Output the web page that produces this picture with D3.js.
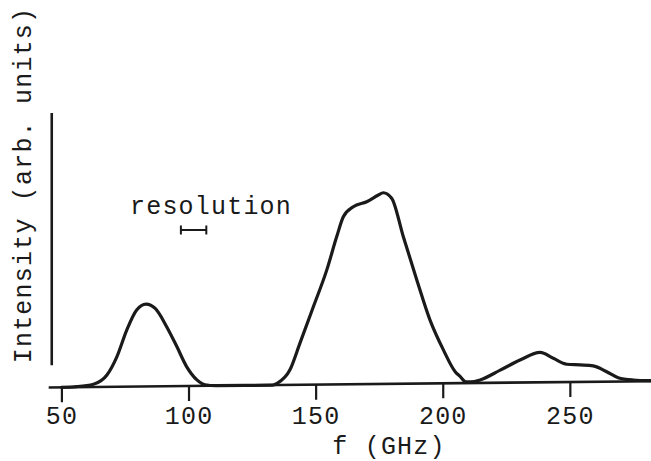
<!DOCTYPE html>
<html>
<head>
<meta charset="utf-8">
<script src="https://cdn.jsdelivr.net/npm/d3@7"></script>
<style>
  html, body { margin: 0; padding: 0; background: #fff; }
  svg { display: block; }
  text { font-family: "Liberation Mono", "DejaVu Sans Mono", monospace; fill: #1a1a1a; }
</style>
</head>
<body>
<svg id="chart" width="651" height="461"></svg>
<script>
// Measured spectrum: frequency (GHz) and intensity (arbitrary units)
const freqGHz = [
  50, 56, 62.6, 67.9, 71.8, 75.7, 79.6, 83.3, 86.9, 91.4, 95.4, 99.3, 103.3, 106.5, 111,
  133, 135, 139.9, 143.8, 149.1, 154.4, 158.3, 160.9, 164.8, 170.1, 174.7, 176.6, 179.9,
  184.5, 189.8, 195.0, 200.3, 204.9, 206.9, 209, 211,
  214.7, 222.6, 230.4, 238.3, 243.5, 248.8, 254.0, 259.2, 264.5, 269.0, 274.9, 282
];
const intensity = [
  0, 0.002, 0.010, 0.043, 0.109, 0.206, 0.279, 0.300, 0.284, 0.217, 0.144, 0.070, 0.022, 0.004, 0,
  0, 0.007, 0.055, 0.151, 0.284, 0.418, 0.539, 0.611, 0.647, 0.665, 0.689, 0.697, 0.677,
  0.536, 0.378, 0.231, 0.121, 0.042, 0.024, 0.005, 0.004,
  0.011, 0.046, 0.082, 0.109, 0.087, 0.065, 0.062, 0.058, 0.036, 0.014, 0.005, 0.002
];
const tickValues = [50, 100, 150, 200, 250];
const tickLabels = ["50", "100", "150", "200", "250"];
const resolutionGHz = [97, 107];
const xTitle = "f (GHz)";
const yTitle = "Intensity (arb. units)";
const resolutionLabel = "resolution";

const svg = d3.select("#chart");
const ink = "#1a1a1a";

const x = d3.scaleLinear().domain([45, 282]).range([48.7, 651.2]);
const y = d3.scaleLinear().domain([0, 1]).range([387.3, 113]);

// The hand-drawn baseline runs slightly uphill to the right
const ox = x(50), oy = y(0);
const plot = svg.append("g")
  .attr("transform", `translate(${ox},${oy}) skewY(-0.595) translate(${-ox},${-oy})`);

// x axis line and ticks
const xAxis = d3.axisBottom(x)
  .tickValues(tickValues)
  .tickSize(15)
  .tickFormat("");
const ax = plot.append("g")
  .attr("transform", `translate(0,${y(0)})`)
  .call(xAxis);
ax.select(".domain").attr("d", `M${x(45)},0H${x(282)}`)
  .attr("stroke", ink).attr("stroke-width", 2.6);
ax.selectAll(".tick line").attr("stroke", ink).attr("stroke-width", 2.2);

// vertical intensity axis (no ticks)
plot.append("line")
  .attr("x1", x(46.2)).attr("x2", x(46.2))
  .attr("y1", y(0.081)).attr("y2", y(1))
  .attr("stroke", ink).attr("stroke-width", 2.6);

// spectrum curve
const pts = freqGHz.map((f, i) => [f, intensity[i]]);
const line = d3.line()
  .x(d => x(d[0]))
  .y(d => y(d[1]))
  .curve(d3.curveMonotoneX);
plot.append("path")
  .datum(pts)
  .attr("d", line)
  .attr("fill", "none")
  .attr("stroke", ink)
  .attr("stroke-width", 3.2)
  .attr("stroke-linejoin", "round")
  .attr("stroke-linecap", "round");

// tick labels (kept level)
const labelAxis = d3.axisBottom(x)
  .tickValues(tickValues)
  .tickSize(0)
  .tickPadding(0)
  .tickFormat((d, i) => tickLabels[i]);
const la = svg.append("g")
  .attr("transform", `translate(0,406)`)
  .call(labelAxis);
la.select(".domain").remove();
la.selectAll("text")
  .attr("dy", "0.71em")
  .style("font-family", '"Liberation Mono", monospace')
  .style("font-size", "25px")
  .style("letter-spacing", "1.2px")
  .attr("fill", ink);

// axis titles
svg.append("text")
  .attr("x", 389).attr("y", 453.5)
  .attr("text-anchor", "middle")
  .style("font-size", "25px")
  .style("letter-spacing", "1.2px")
  .text(xTitle);

svg.append("text")
  .attr("transform", "translate(31,185) rotate(-90)")
  .attr("text-anchor", "middle")
  .style("font-size", "25px")
  .style("letter-spacing", "1.2px")
  .text(yTitle);

// resolution marker
svg.append("text")
  .attr("x", 211).attr("y", 213.5)
  .attr("text-anchor", "middle")
  .style("font-size", "25px")
  .style("letter-spacing", "1.2px")
  .text(resolutionLabel);

const rb = svg.append("g").attr("stroke", ink).attr("stroke-width", 2);
const ry = 230;
rb.append("line").attr("x1", x(resolutionGHz[0])).attr("x2", x(resolutionGHz[1]))
  .attr("y1", ry).attr("y2", ry);
resolutionGHz.forEach(f => {
  rb.append("line").attr("x1", x(f)).attr("x2", x(f))
    .attr("y1", ry - 4.5).attr("y2", ry + 4.5);
});
</script>
</body>
</html>
